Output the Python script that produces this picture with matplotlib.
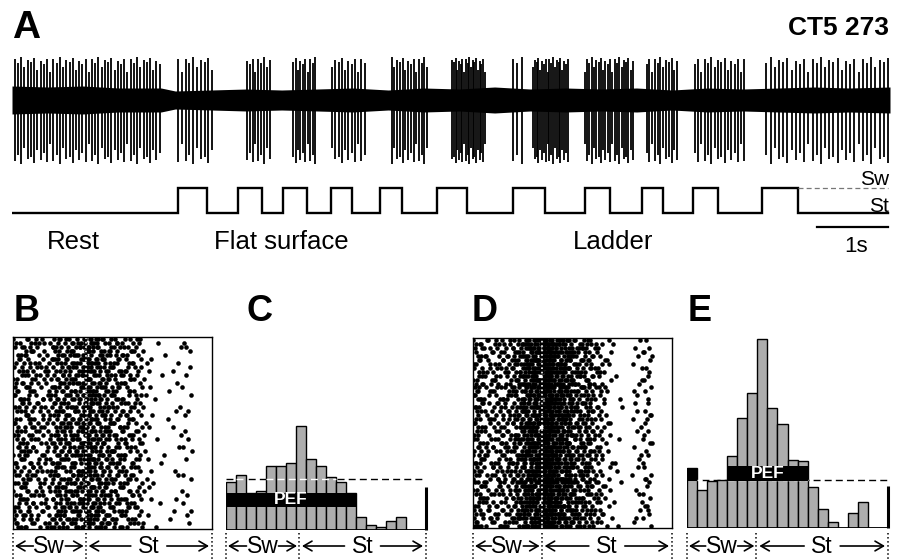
import matplotlib
matplotlib.use('Agg')
import matplotlib.pyplot as plt
import matplotlib.transforms as mtransforms
import numpy as np

plt.rcParams['font.family'] = ['Liberation Sans', 'DejaVu Sans']

W, H = 901, 559

# ---- A: unit recording (time in s) ----
trace_len = 12.37
burst_start = [0.04, 2.34, 3.31, 3.96, 4.51, 5.35, 6.20, 7.06, 7.34, 8.07, 8.94, 9.62, 10.63]
burst_end = [2.08, 2.82, 3.63, 4.27, 4.97, 5.85, 6.66, 7.18, 7.83, 8.75, 9.37, 10.32, 12.34]
burst_spikes = [46, 10, 9, 10, 11, 14, 20, 3, 20, 22, 12, 16, 30]
spike_up = [41, 37, 43, 33, 40, 38, 42, 30, 39, 36, 41, 28]
spike_down = [-61, -55, -64, -48, -59, -57, -63, -50, -60, -53, -62, -44]
noise_t = [0, 0.5, 1.0, 1.5, 2.1, 2.3, 2.8, 3.3, 3.8, 4.3, 4.8, 5.3, 5.8, 6.3, 6.8, 7.3,
           7.8, 8.3, 8.8, 9.3, 9.8, 10.3, 10.8, 11.3, 11.8, 12.37]
noise_hw = [14, 13, 14, 12, 12, 9, 10, 11, 10, 11, 12, 10, 12, 11, 13, 11,
            12, 11, 12, 10, 12, 11, 12, 13, 12, 13]

# step-cycle trace: swing onsets / offsets (s)
swing_on = [2.34, 3.18, 3.82, 4.49, 5.18, 5.99, 7.06, 8.07, 8.87, 9.59, 10.56]
swing_off = [2.75, 3.52, 4.15, 4.79, 5.49, 6.41, 7.51, 8.42, 9.17, 9.94, 11.07]

# ---- B-E: phase histograms, 20 bins per step cycle ----
flat_rate = [48, 55, 37.5, 39, 64, 64, 67, 104, 71, 64, 53, 48, 37.5, 13, 5, 3, 9, 13, 0, 0]
ladder_rate = [60, 38, 47, 48, 72, 110, 135, 189, 120, 104, 68, 67, 41, 19, 6, 0, 15, 26, 0, 0]
flat_mean, ladder_mean = 50.7, 48.3
flat_swing, ladder_swing = 0.365, 0.345
flat_pef = [(0, 13)]
ladder_pef = [(0, 1), (4, 12)]
flat_pef_band = (22.7, 37.3)
ladder_pef_band = (46.7, 61.7)
flat_scale, ladder_scale = 43.3, 42.3
n_trials = 48

fig = plt.figure(figsize=(W / 100, H / 100), dpi=100)


def add_box(x0, y0, x1, y1):
    ax = fig.add_axes([x0 / W, 1 - y1 / H, (x1 - x0) / W, (y1 - y0) / H])
    ax.set_axis_off()
    return ax


def fy(py):
    return 1 - py / H


def halton(i, base):
    f, r = 1.0, 0.0
    while i > 0:
        f /= base
        r += f * (i % base)
        i //= base
    return r


# trace
ax_tr = add_box(12, 50, 890, 170)
ax_tr.set_xlim(0, trace_len)
ax_tr.set_ylim(-70, 50)
ax_tr.fill_between(noise_t, [-h for h in noise_hw], noise_hw, color='k', lw=0)
k = 0
for t0, t1, n in zip(burst_start, burst_end, burst_spikes):
    for t in np.linspace(t0, t1, n):
        ax_tr.vlines(t, spike_down[k % len(spike_down)], spike_up[k % len(spike_up)],
                     color='k', lw=1.3)
        k += 1

# step trace
ax_st = add_box(12, 170, 890, 262)
ax_st.set_xlim(0, trace_len)
ax_st.set_ylim(-1.96, 1.72)
xs, ys = [0], [0]
for on, off in zip(swing_on, swing_off):
    xs += [on, on, off, off]
    ys += [0, 1, 1, 0]
xs.append(trace_len - 0.03)
ys.append(0)
ax_st.plot(xs, ys, color='k', lw=1.7, solid_joinstyle='miter')
ax_st.plot([swing_off[-1], trace_len - 0.03], [1, 1], color='#777777', lw=0.9, ls=(0, (4, 2.5)))
ax_st.plot([trace_len - 0.03 - 1.0, trace_len - 0.03], [-0.56, -0.56], color='k', lw=1.6)

fig.text(12 / W, fy(38), 'A', fontsize=28, fontweight='bold', va='baseline')
fig.text(889 / W, fy(35), 'CT5 273', fontsize=19, fontweight='bold', ha='right', va='baseline')
for label, cx in [('Rest', 73), ('Flat surface', 281), ('Ladder', 613)]:
    fig.text(cx / W, fy(249), label, fontsize=18.5, ha='center', va='baseline')
fig.text(889 / W, fy(185), 'Sw', fontsize=15, ha='right', va='baseline')
fig.text(889 / W, fy(212), 'St', fontsize=15, ha='right', va='baseline')
fig.text(856 / W, fy(252), '1s', fontsize=16, ha='center', va='baseline')

for label, x in [('B', 14), ('C', 247), ('D', 472), ('E', 688)]:
    fig.text(x / W, fy(321), label, fontsize=26, fontweight='bold', va='baseline')


def phase_marks(ax, x0, xb, x1, px_per_unit):
    tr = mtransforms.blended_transform_factory(ax.transData, fig.transFigure)
    for x in (x0, xb, x1):
        ax.plot([x, x], [fy(533), fy(559)], transform=tr, ls=':', lw=1.1, color='k', clip_on=False)
    yb, ya = fy(553), fy(546)
    cs, ct = (x0 + xb) / 2, (xb + x1) / 2
    ax.text(cs, yb, 'Sw', transform=tr, ha='center', va='baseline', fontsize=16.5)
    ax.text(ct, yb, 'St', transform=tr, ha='center', va='baseline', fontsize=16.5)
    u = 1.0 / px_per_unit
    arrows = [(cs - 16 * u, x0 + 2 * u), (cs + 16 * u, xb - 2 * u),
              (ct - 18 * u, xb + 3 * u), (ct + 18 * u, x1 - 3 * u)]
    for start, end in arrows:
        ax.annotate('', xy=(end, ya), xytext=(start, ya), xycoords=tr, textcoords=tr,
                    arrowprops=dict(arrowstyle='->,head_length=0.6,head_width=0.35',
                                    lw=1.2, color='k', shrinkA=0, shrinkB=0))


def raster(box, rates, swing):
    ax = fig.add_axes([box[0] / W, 1 - box[3] / H, (box[2] - box[0]) / W, (box[3] - box[1]) / H])
    ax.set_xticks([])
    ax.set_yticks([])
    for s in ax.spines.values():
        s.set_linewidth(1.0)
    ax.set_xlim(0, 1)
    ax.set_ylim(0, n_trials)
    # dot density per phase bin follows the histogram
    nb = len(rates)
    px, py = [], []
    i = 17
    for b, r in enumerate(rates):
        for _ in range(int(round(r * 1.6))):
            i += 1
            px.append((b + halton(i, 2)) / nb)
            py.append(np.floor(halton(i, 3) * n_trials) + 0.5)
    ax.plot(px, py, 'o', ms=3.3, color='k', mew=0)
    ax.axvline(swing, color='white', lw=1.2, ls=':')
    phase_marks(ax, 0, swing, 1, box[2] - box[0])
    return ax


def histogram(box, rates, mean, dash_start, pef, band, scale_h, swing):
    ax = add_box(*box)
    n = len(rates)
    ax.set_xlim(0, n)
    ax.set_ylim(0, box[3] - box[1])
    ax.bar(np.arange(n), rates, width=1, align='edge', color='#adadad', edgecolor='k', lw=1.0, zorder=2)
    ax.plot([0, n], [0, 0], color='k', lw=1.3, zorder=3)
    dash = (0, (5, 3))
    ax.plot([dash_start, n], [mean, mean], color='k', lw=1.0, ls=dash, zorder=1)
    i = 0
    while i < n:
        if rates[i] > mean:
            j = i
            while j < n and rates[j] > mean:
                j += 1
            ax.plot([max(i, dash_start), j], [mean, mean], color='white', lw=1.0, ls=dash, zorder=4)
            i = j
        else:
            i += 1
    longest = max(pef, key=lambda s: s[1] - s[0])
    for a, b in pef:
        top = min(band[1], min(rates[a:b]))
        ax.bar(a, top - band[0], bottom=band[0], width=b - a, align='edge', color='k', lw=0, zorder=5)
    ax.text((longest[0] + longest[1]) / 2, (band[0] + band[1]) / 2, 'PEF', color='white',
            fontsize=12.5, fontweight='bold', ha='center', va='center', zorder=6)
    ax.plot([n, n], [0, scale_h], color='k', lw=2.2, zorder=3, clip_on=False, solid_capstyle='butt')
    phase_marks(ax, 0, swing * n, n, (box[2] - box[0]) / n)
    return ax


raster((13, 337, 212, 529), flat_rate, flat_swing)
histogram((226, 330, 426, 530), flat_rate, flat_mean, 0, flat_pef, flat_pef_band, flat_scale, flat_swing)
raster((473, 338, 672, 528), ladder_rate, ladder_swing)
histogram((687, 328, 888, 528), ladder_rate, ladder_mean, 1.5, ladder_pef, ladder_pef_band, ladder_scale, ladder_swing)

fig.savefig('out.png', dpi=100)
